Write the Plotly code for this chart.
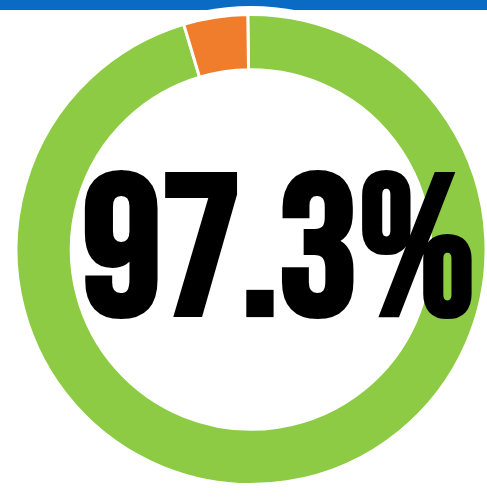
import plotly.graph_objects as go

labels = ["Met", "Not met"]
values = [95.6, 4.4]
colors = ["#8DCB45", "#F07D2C"]
center_text = "97.3%"

fig = go.Figure()
fig.add_trace(go.Pie(
    labels=labels, values=values, hole=0.765, sort=False, direction="clockwise",
    rotation=-0.8, marker=dict(colors=colors, line=dict(color="white", width=3)),
    textinfo="none", hoverinfo="label+percent", showlegend=False,
    domain=dict(x=[0.033, 0.998], y=[0.02, 0.976]),
))
fig.add_shape(type="rect", xref="paper", yref="paper", x0=0, x1=1, y0=0.98, y1=1.0,
              fillcolor="#0A6BC5", line=dict(width=0), layer="below")
fig.add_shape(type="circle", xref="paper", yref="paper", x0=0.01, x1=1.02, y0=0.0, y1=0.988,
              fillcolor="white", line=dict(width=0), layer="below")
fig.add_annotation(text="<b>" + center_text + "</b>", x=0.572, y=0.488, xref="paper", yref="paper",
                   showarrow=False, font=dict(family="Bebas Neue, Oswald, sans-serif",
                                              size=199, color="#000000"))
fig.update_layout(width=487, height=497, margin=dict(l=0, r=0, t=0, b=0),
                  paper_bgcolor="white", plot_bgcolor="white")
fig.write_html("out.html", config={"displayModeBar": False},
               post_script="document.body.style.margin='0';")
